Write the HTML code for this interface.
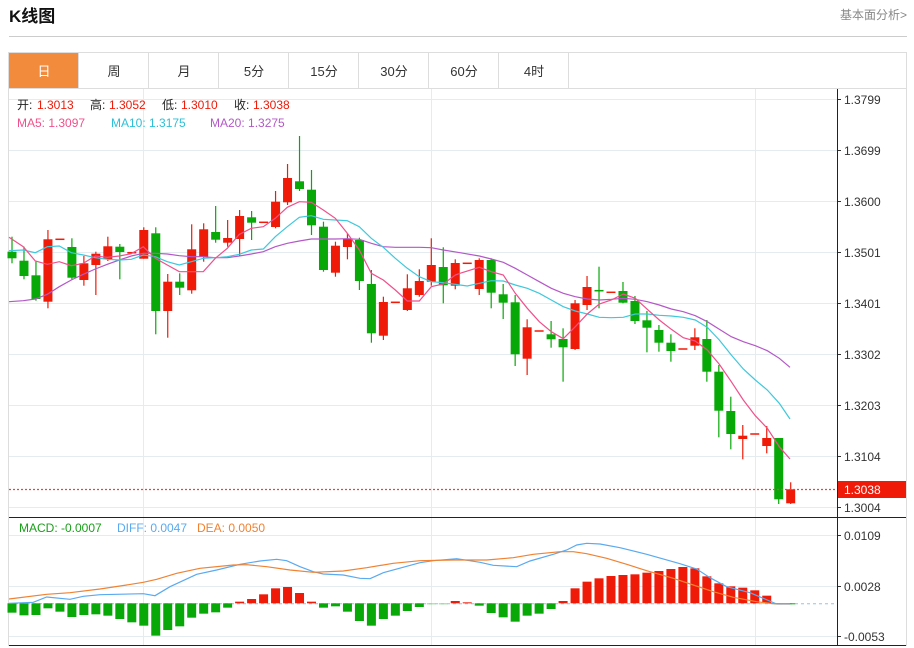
<!DOCTYPE html>
<html><head><meta charset="utf-8"><style>
body{margin:0;background:#fff;width:914px;height:648px;overflow:hidden;font-family:"Liberation Sans","Noto Sans CJK SC",sans-serif;}
svg{position:absolute;left:0;top:0}
</style></head><body>
<svg id="s" width="914" height="648" xmlns="http://www.w3.org/2000/svg" font-family="Liberation Sans, Noto Sans CJK SC, sans-serif"></svg>
<script>
const S=document.getElementById('s');let h='';
function L(x1,y1,x2,y2,c,w,d){h+=`<line x1="${x1}" y1="${y1}" x2="${x2}" y2="${y2}" stroke="${c}" stroke-width="${w||1}" ${d?'stroke-dasharray="'+d+'"':''}/>`;}
function R(x,y,w,hh,f,s){h+=`<rect x="${x}" y="${y}" width="${w}" height="${hh}" fill="${f}" ${s?'stroke="'+s+'"':''}/>`;}
function T(x,y,t,c,sz,extra){h+=`<text x="${x}" y="${y}" fill="${c}" font-size="${sz||12}" ${extra||''}>${t}</text>`;}
T(9,22,'K线图','#111',17,'font-weight="bold"');
T(840,19,'基本面分析&gt;','#888',12);
L(9,36.5,907,36.5,'#ccc',1);
R(8.5,52.5,898,36,'#fff','#ddd');
R(9,53,69,35,'#f28c3c');
const tabs=['日','周','月','5分','15分','30分','60分','4时'];
for(let i=0;i<8;i++){const cx=9+70*i+35;if(i>0)L(8.5+70*i,52.5,8.5+70*i,88.5,'#ddd');T(cx,76,tabs[i],i==0?'#fff':'#333',13,'text-anchor="middle"');}
L(568.5,52.5,568.5,88.5,'#ddd');
R(8.5,88.5,898,557,'#fff','#ddd');
const gy=[99,150,201,252,303,354,405,456,507];
const gl=['1.3799','1.3699','1.3600','1.3501','1.3401','1.3302','1.3203','1.3104','1.3004'];
gy.forEach((y,i)=>{L(9,y+.5,837,y+.5,'#e4ecf2');L(837,y+.5,841,y+.5,'#333');T(844,y+5,gl[i],'#333',12);});
[143.5,431.5,755.5].forEach(x=>{L(x,89,x,645,'#e4ecf2');});
[535,586,636].forEach((y,i)=>{L(9,y+.5,837,y+.5,'#e4ecf2');L(837,y+.5,841,y+.5,'#333');T(844,y+5,['0.0109','0.0028','-0.0053'][i],'#333',12);});
L(837.5,89,837.5,645,'#222');
L(9,517.5,906,517.5,'#222');
L(9,645.5,906,645.5,'#222');
const C=[
['g',251.7,258.3,236.7,263.3],['g',260.7,276,246.7,279.3],['g',275.3,299,261.7,300.7],['r',239.3,301.7,230,308.3],['r',239.3,239.3],
['g',247,277.7,238.3,280],['r',263.3,280,256,285.7],['r',253.7,265,251.7,295],['r',246.3,259.3,236.7,261],['g',246.7,252,244,279.3],
['r',252.7,252.7],['r',230,258.7,227.3,258.7],['g',233.3,311,227.3,334.3],['r',281.7,311,274,337.7],['g',281.7,287.7,273.3,295],
['r',249.3,290.3,224.3,293.7],['r',229.3,257,223.3,261.7],['g',232,239.7,206,242.7],['r',238,242.7,220,246.7],['r',216,239,210,256],
['g',217.3,222.7,211,240],['r',222.3,222.3],['r',201.7,227,191,228.3],['r',178,202.3,164,205],['g',181.3,189,136,191],
['g',189.7,225.3,170,235],['g',226.7,270,221.7,271.7],['r',245.7,272.7,241.7,276.7],['r',238.7,247,233.3,259.3],['g',240,281,237.7,290],
['g',284,333.3,270,342.7],['r',302,335.7,296.7,340],['r',302.3,302.3],['r',288.3,310,274.3,311],['r',281,295,269.3,296.7],
['r',265,281.7,238.3,285.7],['g',267,285.3,247.3,303.3],['r',263,285.7,259.3,289.3],['r',263.3,263.3],['r',260,289,258.3,295],
['g',260,292.7,258.3,308.3],['g',294.3,302.7,284,319],['g',302.3,354.3,295,366],['r',327.3,358.7,319.3,375],['r',331,331],
['g',334.3,339.3,321,347.7],['g',339,347.3,328.3,381.7],['r',303.3,349,300,350],['r',287,305,276,310],['g',290.7,290.7,266.7,308.3],
['r',292.3,292.3],['g',291,302.7,282,303.3],['g',301,321,296,324],['g',320.3,327.7,311,352.3],['g',330,342.7,325,351.7],
['g',342.7,351,334.3,361.7],['r',349,349],['r',337.3,345.7,328.3,350],['g',339,371.7,320,381.7],['g',371.7,410.7,365,437.3],
['g',411,434,396.7,449.3],['r',435.7,439,425,459.3],['r',434,434],['r',438,446,426,453.3],['g',438,499.3,438,504],['r',489.3,503.3,482.3,504]];
const X=i=>12+i*11.98;
const col={r:'#f01a08',g:'#08a808'};
C.forEach((c,i)=>{const x=X(i),f=col[c[0]];
 if(c[3]!==undefined)L(x,c[3],x,c[4],f,1.2);
 const bh=Math.max(c[2]-c[1],1.5);R(x-4.5,c[1]-(c[2]==c[1]?0.75:0),9,bh,f);});
function P(pts,c,ox,oy){h+=`<polyline fill="none" stroke="${c}" stroke-width="1.2" points="${pts.map(p=>(ox+p[0]/3).toFixed(1)+','+(oy+p[1]/3).toFixed(1)).join(' ')}"/>`;}
const ma5a=[[27,322],[70,350],[106,393],[142,403],[178,395],[214,407],[250,400],[286,378],[322,382],[358,378],[394,371],[430,350],[466,385],[502,405],[538,425],[610,425],[646,385],[682,355],[718,313],[754,295],[790,290],[826,265],[862,232],[898,215],[934,217],[970,240],[1006,265],[1042,310],[1078,360],[1114,430],[1150,450],[1186,480],[1222,513],[1258,513],[1294,470],[1330,462],[1366,435],[1380,430]];
const ma5b=[[0,100],[58,82],[94,95],[130,105],[166,160],[202,205],[238,245],[274,275],[310,296],[346,260],[382,222],[418,192],[454,180],[490,162],[526,175],[562,208],[598,240],[634,268],[670,293],[706,303],[742,330],[778,373],[814,425],[850,480],[886,527],[922,565],[958,620],[990,657]];
const ma10a=[[27,362],[70,360],[106,368],[142,350],[178,348],[214,368],[250,375],[286,383],[322,388],[358,390],[394,388],[430,375],[466,380],[502,395],[538,405],[574,395],[610,385],[646,383],[682,380],[718,373],[754,360],[790,357],[826,320],[862,290],[898,262],[934,257],[970,268],[1006,270],[1042,272],[1078,290],[1114,325],[1150,352],[1186,385],[1222,415],[1258,440],[1294,455],[1330,458],[1380,465]];
const ma10b=[[0,135],[22,138],[58,130],[94,122],[130,123],[166,135],[202,145],[238,160],[274,180],[310,200],[346,213],[382,222],[418,232],[454,233],[490,232],[526,222],[562,222],[598,226],[634,228],[670,232],[706,240],[742,262],[778,300],[814,345],[850,387],[886,420],[922,450],[958,490],[990,537]];
const ma20a=[[27,515],[70,512],[106,507],[142,493],[178,470],[214,450],[250,433],[286,417],[322,403],[358,390],[394,378],[430,370],[466,370],[502,372],[538,377],[574,380],[610,380],[646,383],[682,383],[718,378],[754,372],[790,365],[826,350],[862,340],[898,333],[934,327],[970,327],[1006,327],[1042,326],[1078,328],[1114,340],[1150,350],[1186,352],[1222,352],[1258,352],[1294,353],[1330,360],[1380,368]];
const ma20b=[[0,38],[58,48],[94,57],[130,67],[166,85],[202,105],[238,125],[274,145],[310,160],[346,170],[382,177],[418,180],[454,178],[490,175],[526,178],[562,185],[598,195],[634,207],[670,215],[706,227],[742,245],[778,268],[814,290],[850,305],[886,317],[922,332],[958,355],[990,382]];
P(ma20a,'#b458c8',0,130);P(ma20b,'#b458c8',460,240);
P(ma10a,'#3ec8dc',0,130);P(ma10b,'#3ec8dc',460,240);
P(ma5a,'#f0508a',0,130);P(ma5b,'#f0508a',460,240);
L(9,489.5,837,489.5,'#f04040',1.2,'2,2');
R(838,481,68,17,'#f01a08');T(844,494,'1.3038','#fff',12);
T(17,109,'开:','#222',12);T(37,109,'1.3013','#f01a08',12);
T(90,109,'高:','#222',12);T(109,109,'1.3052','#f01a08',12);
T(162,109,'低:','#222',12);T(181,109,'1.3010','#f01a08',12);
T(234,109,'收:','#222',12);T(253,109,'1.3038','#f01a08',12);
T(17,127,'MA5: 1.3097','#f0508a',12);T(111,127,'MA10: 1.3175','#2cc0d8',12);T(210,127,'MA20: 1.3275','#b458c8',12);
T(19,532,'MACD: -0.0007','#18a018',12);T(117,532,'DIFF: 0.0047','#5aaaf0',12);T(197,532,'DEA: 0.0050','#f08232',12);
const zero=603.3;
L(9,zero+.5,837,zero+.5,'#8cc8e0',1,'3,3');
const mb=[293,301,300,280,290,306,300,298,302,312,322,332,362,345,334,308,296,292,278,260,252,238,220,216,234,260,278,274,290,318,332,312,302,288,276,268,268,258,262,272,294,307,320,302,296,282,258,220,200,190,183,180,178,173,168,162,156,160,184,205,214,218,226,242,267,265];
mb.forEach((v,i)=>{const y=515+v/3,x=X(i);const up=y<zero;const top=Math.min(y,zero),hh=Math.max(Math.abs(y-zero),1);
 let f=up?'#f01a08':'#08a808';if(i>=35&&i<=36)f='#90d890';R(x-4.5,top,9,hh,f);});
const diffa=[[27,265],[100,262],[140,246],[210,253],[250,244],[300,239],[430,236],[465,242],[510,215],[590,178],[650,165],[720,148],[780,138],[830,133],[860,137],[900,155],[940,170],[970,177],[1030,180],[1080,190],[1110,191],[1150,173],[1260,143]];
const diffb=[[0,143],[40,137],[110,131],[180,142],[220,151],[290,155],[330,138],[400,118],[440,105],[470,90],[500,85],[540,87],[600,98],[680,118],[780,146],[830,162],[870,188],[920,215],[990,233],[1070,267],[1110,267]];
const deaa=[[27,252],[140,238],[210,233],[300,222],[380,210],[430,202],[470,193],[530,175],[600,160],[700,150],[740,149],[800,155],[870,165],[940,172],[1030,168],[1100,158],[1180,145],[1260,137]];
const deab=[[0,137],[100,135],[200,135],[280,128],[340,118],[420,110],[460,110],[500,116],[560,130],[620,148],[680,167],[760,190],[820,210],[880,230],[940,247],[1010,260],[1060,266],[1110,266]];
P(diffa,'#5aaaf0',0,515);P(diffb,'#5aaaf0',420,515);
P(deaa,'#f08232',0,515);P(deab,'#f08232',420,515);
S.innerHTML=h;
</script>
</body></html>
